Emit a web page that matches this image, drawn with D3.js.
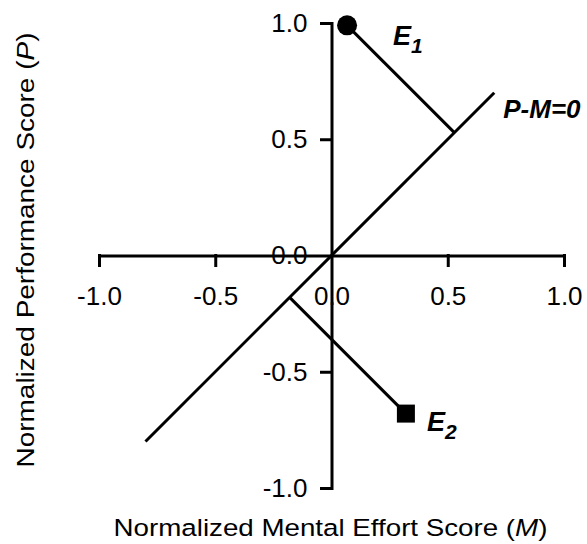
<!DOCTYPE html>
<html>
<head>
<meta charset="utf-8">
<script src="https://cdn.jsdelivr.net/npm/d3@7"></script>
<style>
  html, body { margin: 0; padding: 0; background: #fff; }
  svg { display: block; font-family: Arial, "Liberation Sans", Helvetica, sans-serif; }
</style>
</head>
<body>
<svg id="chart" width="587" height="544"></svg>
<script>
// Axis ticks (both axes share the same normalized range)
const xTicks = [-1.0, -0.5, 0.0, 0.5, 1.0];
const yTicks = [-1.0, -0.5, 0.0, 0.5, 1.0];

// Efficiency points: normalized mental effort (M) and performance (P)
const pointNames = ["E1", "E2"];
const pointM = [0.067, 0.32];
const pointP = [0.99, -0.68];
const pointShapes = ["circle", "square"];

// Extent of the P - M = 0 reference line (along M)
const diagonalM = [-0.8, 0.7];

const svg = d3.select("#chart");

const x = d3.scaleLinear().domain([-1, 1]).range([99, 564]);
const y = d3.scaleLinear().domain([-1, 1]).range([488, 23]);

const ink = "#000";
const lw = 3;
const fmt = d => d.toFixed(1);   // plain hyphen for negatives

// --- tick labels first so the axis lines run across the "0.0" labels
const xLab = svg.append("g")
  .attr("transform", `translate(0,${y(0)})`)
  .call(d3.axisBottom(x).tickValues(xTicks).tickFormat(fmt).tickSize(10).tickPadding(21));
const yLab = svg.append("g")
  .attr("transform", `translate(${x(0)},0)`)
  .call(d3.axisLeft(y).tickValues(yTicks).tickFormat(fmt).tickSize(10).tickPadding(14));
[xLab, yLab].forEach(g => {
  g.select(".domain").remove();
  g.selectAll(".tick line").remove();
  g.selectAll("text")
    .attr("fill", ink)
    .style("font-size", "26px")
    .style("font-family", "Arial, 'Liberation Sans', sans-serif");
});

// --- axis lines and ticks
const xLine = svg.append("g")
  .attr("transform", `translate(0,${y(0)})`)
  .call(d3.axisBottom(x).tickValues(xTicks.filter(v => v !== 0)).tickFormat("").tickSize(10).tickSizeOuter(0));
const yLine = svg.append("g")
  .attr("transform", `translate(${x(0)},0)`)
  .call(d3.axisLeft(y).tickValues(yTicks.filter(v => v !== 0)).tickFormat("").tickSize(10).tickSizeOuter(0));
[xLine, yLine].forEach(g => {
  g.selectAll(".domain, .tick line")
    .attr("stroke", ink)
    .attr("stroke-width", lw)
    .attr("stroke-linecap", "square");
});

// --- P - M = 0 line
svg.append("line")
  .attr("x1", x(diagonalM[0])).attr("y1", y(diagonalM[0]))
  .attr("x2", x(diagonalM[1])).attr("y2", y(diagonalM[1]))
  .attr("stroke", ink).attr("stroke-width", lw);

svg.append("text")
  .attr("x", x(diagonalM[1]) + 9)
  .attr("y", y(diagonalM[1]) + 25)
  .attr("fill", ink)
  .style("font-size", "26px")
  .style("font-weight", "bold")
  .style("font-style", "italic")
  .text("P-M=0");

// --- efficiency points with their perpendicular distance to the line
const points = pointNames.map((name, i) => ({
  name, M: pointM[i], P: pointP[i], shape: pointShapes[i]
}));

points.forEach(d => {
  // foot of the perpendicular onto P = M
  const f = (d.M + d.P) / 2;
  svg.append("line")
    .attr("x1", x(d.M)).attr("y1", y(d.P))
    .attr("x2", x(f)).attr("y2", y(f))
    .attr("stroke", ink).attr("stroke-width", lw);
});

points.forEach(d => {
  if (d.shape === "circle") {
    svg.append("circle")
      .attr("cx", x(d.M)).attr("cy", y(d.P)).attr("r", 10)
      .attr("fill", ink);
  } else {
    svg.append("rect")
      .attr("x", x(d.M) - 9).attr("y", y(d.P) - 9)
      .attr("width", 18).attr("height", 18)
      .attr("fill", ink);
  }
});

// point labels with subscripts
const labelOffsets = { E1: [46, 20], E2: [21, 17] };
points.forEach(d => {
  const [dx, dy] = labelOffsets[d.name];
  const t = svg.append("text")
    .attr("x", x(d.M) + dx)
    .attr("y", y(d.P) + dy)
    .attr("fill", ink)
    .style("font-weight", "bold")
    .style("font-style", "italic");
  t.append("tspan").style("font-size", "27px").text(d.name[0]);
  t.append("tspan").style("font-size", "21px").attr("dy", 8).text(d.name.slice(1));
});

// --- axis titles (wide-set lettering)
const xt = svg.append("text")
  .attr("transform", "translate(330.5,536) scale(1.18,1)")
  .attr("text-anchor", "middle")
  .attr("fill", ink)
  .style("font-size", "23.5px");
xt.append("tspan").text("Normalized Mental Effort Score (");
xt.append("tspan").style("font-style", "italic").text("M");
xt.append("tspan").text(")");

const yt = svg.append("text")
  .attr("transform", "translate(34,250) rotate(-90) scale(1.19,1)")
  .attr("text-anchor", "middle")
  .attr("fill", ink)
  .style("font-size", "23.5px");
yt.append("tspan").text("Normalized Performance Score (");
yt.append("tspan").style("font-style", "italic").text("P");
yt.append("tspan").text(")");
</script>
</body>
</html>
